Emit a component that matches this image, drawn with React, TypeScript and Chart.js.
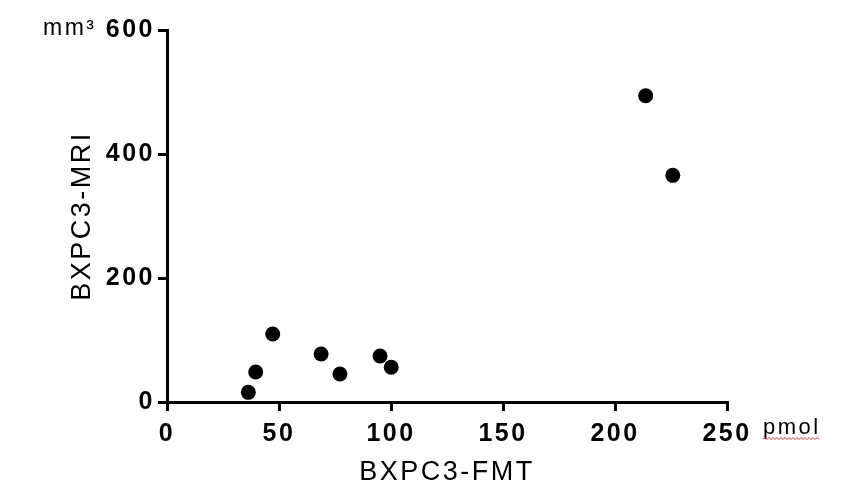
import React, { useEffect, useRef } from "react";
import { Chart, registerables } from "chart.js";

Chart.register(...registerables);

const fmtValues = [36.3, 39.6, 47.2, 68.8, 77.2, 95.1, 100.1, 213.7, 225.8];
const mriValues = [15.6, 48.4, 109.7, 77.4, 45.2, 74.2, 56, 494, 365.6];
const xTitle = "BXPC3-FMT";
const yTitle = "BXPC3-MRI";
const xUnit = "pmol";
const yUnit = "mm³";

const FONT = "'Liberation Sans', Arial, sans-serif";
const SPACING = "2.5px";

const spacingPlugin = {
  id: "spacing",
  beforeUpdate(chart: any) {
    chart.ctx.letterSpacing = SPACING;
  },
  beforeLayout(chart: any) {
    chart.ctx.letterSpacing = SPACING;
  },
  beforeDraw(chart: any) {
    chart.ctx.letterSpacing = SPACING;
  },
  afterDraw(chart: any) {
    const ctx = chart.ctx;
    ctx.save();
    ctx.letterSpacing = "2.5px";
    ctx.fillStyle = "#000";
    ctx.textBaseline = "alphabetic";
    ctx.textAlign = "left";
    ctx.font = `23px ${FONT}`;
    ctx.fillText(yUnit, 43, 35);
    ctx.font = `22px ${FONT}`;
    ctx.fillText(xUnit, 763, 434);
    // spell-check squiggle under unit
    ctx.strokeStyle = "#e03030";
    ctx.lineWidth = 1;
    ctx.beginPath();
    let up = true;
    ctx.moveTo(763, 439);
    for (let x = 765; x <= 820; x += 2) {
      ctx.lineTo(x, up ? 437.5 : 439.5);
      up = !up;
    }
    ctx.stroke();
    ctx.restore();
  },
};

export default function App() {
  const ref = useRef<HTMLCanvasElement | null>(null);
  useEffect(() => {
    if (!ref.current) return;
    const chart = new Chart(ref.current, {
      type: "scatter",
      data: {
        datasets: [
          {
            data: fmtValues.map((x, i) => ({ x, y: mriValues[i] })),
            backgroundColor: "#000",
            borderColor: "#000",
            borderWidth: 0,
            pointRadius: 7.5,
            pointHoverRadius: 7.5,
          },
        ],
      },
      options: {
        responsive: false,
        animation: false,
        devicePixelRatio: 1,
        clip: false,
        layout: { padding: { top: 30, right: 129, bottom: 0, left: 0 } },
        plugins: { legend: { display: false }, tooltip: { enabled: false } },
        scales: {
          x: {
            type: "linear",
            min: 0,
            max: 250,
            afterFit: (s: any) => {
              s.height = 101;
            },
            ticks: {
              stepSize: 50,
              color: "#000",
              padding: 8,
              maxRotation: 0,
              font: { family: FONT, size: 25, weight: "bold" },
            },
            grid: {
              drawOnChartArea: false,
              drawTicks: true,
              tickLength: 9,
              lineWidth: 3,
              color: "#000",
            },
            border: { display: true, width: 3, color: "#000" },
            title: {
              display: true,
              text: xTitle,
              color: "#000",
              font: { family: FONT, size: 27, weight: "normal" },
              padding: { top: 0, bottom: 14 },
            },
          },
          y: {
            type: "linear",
            min: 0,
            max: 600,
            afterFit: (s: any) => {
              s.width = 167;
            },
            ticks: {
              stepSize: 200,
              color: "#000",
              padding: 3,
              font: { family: FONT, size: 25, weight: "bold" },
            },
            grid: {
              drawOnChartArea: false,
              drawTicks: true,
              tickLength: 9,
              lineWidth: 3,
              color: "#000",
            },
            border: { display: true, width: 3, color: "#000" },
            title: {
              display: true,
              text: yTitle,
              color: "#000",
              font: { family: FONT, size: 27, weight: "normal" },
              padding: { top: 66, bottom: 0 },
            },
          },
        },
      },
      plugins: [spacingPlugin],
    });
    return () => chart.destroy();
  }, []);
  return (
    <div style={{ position: "fixed", left: 0, top: 0, width: 856, height: 503, background: "#fff" }}>
      <canvas ref={ref} width={856} height={503} style={{ display: "block", width: 856, height: 503 }} />
    </div>
  );
}
